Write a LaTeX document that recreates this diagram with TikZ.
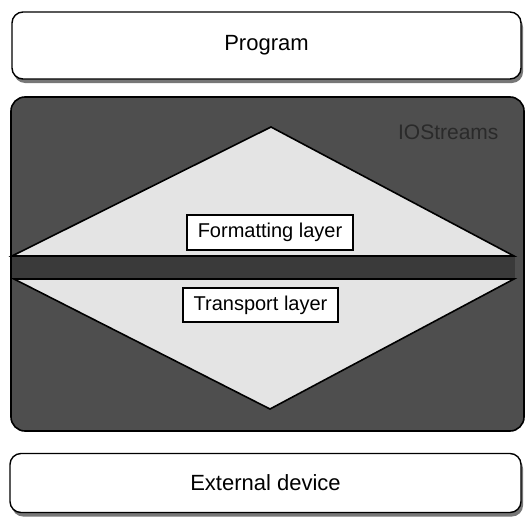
\documentclass[tikz,border=0pt]{standalone}
\usepackage{fontspec}
\setmainfont{Liberation Sans}
\usetikzlibrary{shadows}
\definecolor{darkfill}{HTML}{4E4E4E}
\definecolor{barfill}{HTML}{3A3A3A}
\definecolor{trifill}{HTML}{E4E4E4}
\definecolor{shadowgray}{HTML}{777777}
\definecolor{iostext}{HTML}{2A2A2A}
\tikzset{
  devbox/.style={draw=black, line width=1.4pt, fill=white, rounded corners=11pt,
    inner sep=0pt, font=\fontsize{22}{26}\selectfont,
    drop shadow={shadow xshift=2pt, shadow yshift=-4pt, fill=shadowgray, opacity=1}},
  layerbox/.style={draw=black, line width=1.5pt, fill=white, inner sep=0pt,
    font=\fontsize{20}{24}\selectfont},
  tri/.style={draw=black, line width=1.6pt, fill=trifill, line join=miter},
}
\begin{document}
\begin{tikzpicture}[x=1pt,y=-1pt]
\useasboundingbox (0,0) rectangle (529,527);
% Program box
\node[devbox, minimum width=509pt, minimum height=67pt] (prog) at (266.5,45.5) {Program};
% IOStreams container
\draw[line width=1.6pt, fill=darkfill, rounded corners=14pt] (11,97) rectangle (524,431);
\node[text=iostext, font=\fontsize{21}{25}\selectfont, anchor=east] (ios) at (502,132) {IOStreams};
% band between the triangles
\fill[barfill] (12,256) rectangle (515,278);
% upper triangle
\draw[tri] (12,256) -- (271,127) -- (514,256) -- cycle;
% lower triangle
\draw[tri] (14,279) -- (514,279) -- (270,409) -- cycle;
% layer labels
\node[layerbox, minimum width=166pt, minimum height=35pt] (fmt) at (270,232.5) {Formatting layer};
\node[layerbox, minimum width=155pt, minimum height=34pt] (trn) at (260.5,305) {Transport layer};
% External device box
\node[devbox, minimum width=511pt, minimum height=59pt] (ext) at (265.5,483) {External device};
\end{tikzpicture}
\end{document}
